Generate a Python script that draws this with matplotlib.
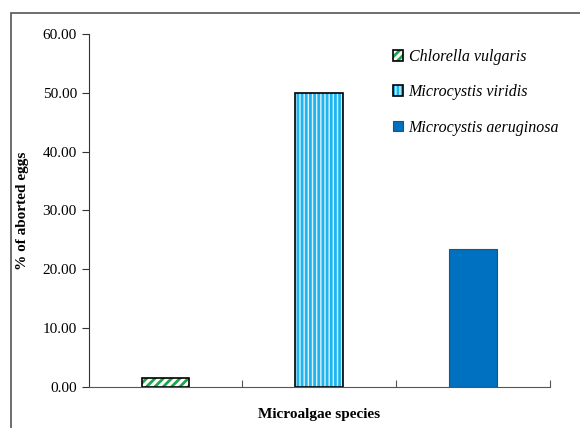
import matplotlib
matplotlib.use('Agg')
from matplotlib import pyplot as plt
from matplotlib.patches import Rectangle

species = ['Chlorella vulgaris', 'Microcystis viridis', 'Microcystis aeruginosa']
aborted = [1.5, 50.0, 23.5]

plt.rcParams['font.family'] = ['Liberation Serif', 'DejaVu Serif']

fig = plt.figure(figsize=(5.8, 4.28), dpi=100)
ax = fig.add_axes([0.153, 0.096, 0.795, 0.825])

# outer frame like the spreadsheet chart area
fig.patches.append(Rectangle((11 / 580, -0.05), 1.2, 1 - 13 / 428 + 0.05,
                             transform=fig.transFigure, fill=False,
                             edgecolor='#555555', linewidth=1.2))

x = [0, 1, 2]
w = 0.31
plt.rcParams['hatch.linewidth'] = 2.0
h1 = ax.bar(x[0], aborted[0], w, facecolor='white', edgecolor='#1aa64a',
            hatch='////', linewidth=0)
o1 = ax.bar(x[0], aborted[0], w, fill=False, edgecolor='black', linewidth=1.2)
h2 = ax.bar(x[1], aborted[1], w, facecolor='#d9f2fc', edgecolor='#1eb4f0',
            hatch='||||', linewidth=0)
o2 = ax.bar(x[1], aborted[1], w, fill=False, edgecolor='black', linewidth=1.2)
h3 = ax.bar(x[2], aborted[2], w, facecolor='#0070c0', edgecolor='#3c4a5a',
            linewidth=0.8)

ax.set_xlim(-0.5, 2.5)
ax.set_ylim(0, 60)
ax.set_yticks([0, 10, 20, 30, 40, 50, 60])
ax.set_yticklabels(['%.2f' % v for v in [0, 10, 20, 30, 40, 50, 60]], fontsize=11)
ax.set_xticks([0.5, 1.5, 2.5])
ax.set_xticklabels([])
ax.tick_params(axis='x', direction='in', length=5, color='#555555')
ax.tick_params(axis='y', direction='out', length=5, color='#333333')
ax.spines['top'].set_visible(False)
ax.spines['right'].set_visible(False)
ax.spines['left'].set_color('#333333')
ax.spines['bottom'].set_color('#555555')

ax.set_ylabel('% of aborted eggs', fontsize=11, fontweight='bold', labelpad=10)
ax.set_xlabel('Microalgae species', fontsize=11, fontweight='bold', labelpad=12)

handles = [(h1[0], o1[0]), (h2[0], o2[0]), h3[0]]
leg = ax.legend(handles, species, loc='upper left', bbox_to_anchor=(0.628, 0.997),
                frameon=False, handlelength=0.65, handleheight=0.65,
                handletextpad=0.35, labelspacing=1.2,
                prop={'style': 'italic', 'size': 11.5})

fig.savefig('out.png', dpi=100)
